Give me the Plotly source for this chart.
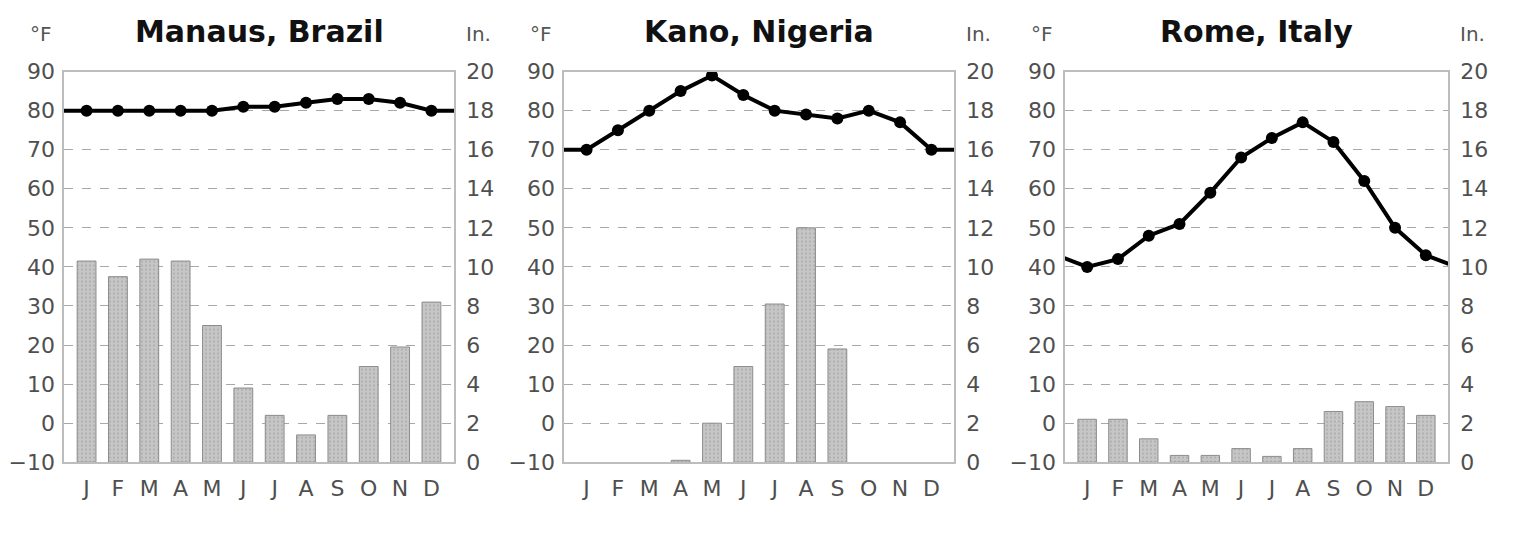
import plotly.graph_objs as go

# monthly climate data
months = ['J', 'F', 'M', 'A', 'M', 'J', 'J', 'A', 'S', 'O', 'N', 'D']
cities = ['Manaus, Brazil', 'Kano, Nigeria', 'Rome, Italy']

manaus_temp = [80, 80, 80, 80, 80, 81, 81, 82, 83, 83, 82, 80]
manaus_rain = [10.3, 9.5, 10.4, 10.3, 7.0, 3.8, 2.4, 1.4, 2.4, 4.9, 5.9, 8.2]

kano_temp = [70, 75, 80, 85, 89, 84, 80, 79, 78, 80, 77, 70]
kano_rain = [0, 0, 0, 0.1, 2.0, 4.9, 8.1, 12.0, 5.8, 0, 0, 0]

rome_temp = [40, 42, 48, 51, 59, 68, 73, 77, 72, 62, 50, 43]
rome_rain = [2.2, 2.2, 1.2, 0.35, 0.35, 0.7, 0.3, 0.7, 2.6, 3.1, 2.85, 2.4]

temps = [manaus_temp, kano_temp, rome_temp]
rains = [manaus_rain, kano_rain, rome_rain]

W, H = 1540, 558
# plot areas in pixels (left, right)
panels_px = [(56, 446), (556, 946), (1057, 1440)]
top_px, bottom_px = 54, 463

font = 'DejaVu Sans, Arial, sans-serif'
tick_font = dict(family=font, size=22, color='#4f4f4f')

fig = go.Figure()
annotations = []

for i in range(3):
    k = i + 1
    xa = 'x' if k == 1 else 'x%d' % k
    ya_rain = 'y' if k == 1 else 'y%d' % (2 * k - 1)
    ya_temp = 'y%d' % (2 * k)
    x = list(range(12))

    # precipitation bars (inches, right axis)
    fig.add_trace(go.Bar(
        x=x, y=rains[i], xaxis=xa, yaxis=ya_rain,
        width=0.6,
        marker=dict(color='#c6c6c6',
                    line=dict(color='#8c8c8c', width=[1 if v > 0 else 0 for v in rains[i]]),
                    pattern=dict(shape='.', fgcolor='#8f8f8f', size=4, solidity=0.2)),
        showlegend=False, hoverinfo='skip'))

    # temperature line (deg F, left axis); Dec/Jan repeated at the ends so the
    # curve runs off the edges of the plot
    t = temps[i]
    fig.add_trace(go.Scatter(
        x=[-1] + x + [12], y=[t[-1]] + t + [t[0]], xaxis=xa, yaxis=ya_temp,
        mode='lines+markers',
        line=dict(color='black', width=4),
        marker=dict(color='black', size=12),
        showlegend=False, hoverinfo='skip'))

    l, r = panels_px[i]
    dom_x = [l / W, r / W]
    dom_y = [1 - bottom_px / H, 1 - top_px / H]

    fig.layout['xaxis' if k == 1 else 'xaxis%d' % k] = dict(
        domain=dom_x, range=[-0.72, 11.72], anchor=ya_rain,
        tickvals=x, ticktext=months, tickfont=tick_font,
        showgrid=False, zeroline=False,
        showline=True, mirror=True, linecolor='#bdbdbd', linewidth=1.5,
        ticks='', ticklabelstandoff=6)

    fig.layout['yaxis' if k == 1 else 'yaxis%d' % (2 * k - 1)] = dict(
        domain=dom_y, range=[0, 20], anchor=xa, side='right',
        tickvals=list(range(0, 21, 2)), tickfont=tick_font,
        showgrid=True, gridcolor='#a8a8a8', griddash='dash', gridwidth=1,
        zeroline=False, showline=True, mirror=True,
        linecolor='#bdbdbd', linewidth=1.5,
        ticks='', ticklabelstandoff=6)

    fig.layout['yaxis%d' % (2 * k)] = dict(
        range=[-10, 90], anchor=xa, overlaying=ya_rain, side='left',
        tickvals=list(range(-10, 91, 10)), tickfont=tick_font,
        showgrid=False, zeroline=False, showline=False,
        ticks='', ticklabelstandoff=8)

    annotations.append(dict(
        text='<b>%s</b>' % cities[i], x=(l + r) / 2 / W, y=1 - 12 / H,
        xref='paper', yref='paper', xanchor='center', yanchor='middle',
        showarrow=False, font=dict(family=font, size=30, color='#111111')))
    annotations.append(dict(
        text='°F', x=(l - 23) / W, y=1 - 15 / H,
        xref='paper', yref='paper', xanchor='center', yanchor='middle',
        showarrow=False, font=dict(family=font, size=20, color='#555555')))
    annotations.append(dict(
        text='In.', x=(r + 24) / W, y=1 - 15 / H,
        xref='paper', yref='paper', xanchor='center', yanchor='middle',
        showarrow=False, font=dict(family=font, size=20, color='#555555')))

fig.update_layout(
    width=W, height=H,
    margin=dict(l=0, r=0, t=0, b=0),
    paper_bgcolor='white', plot_bgcolor='white',
    bargap=0.4,
    annotations=annotations)

fig.write_html('out.html')
